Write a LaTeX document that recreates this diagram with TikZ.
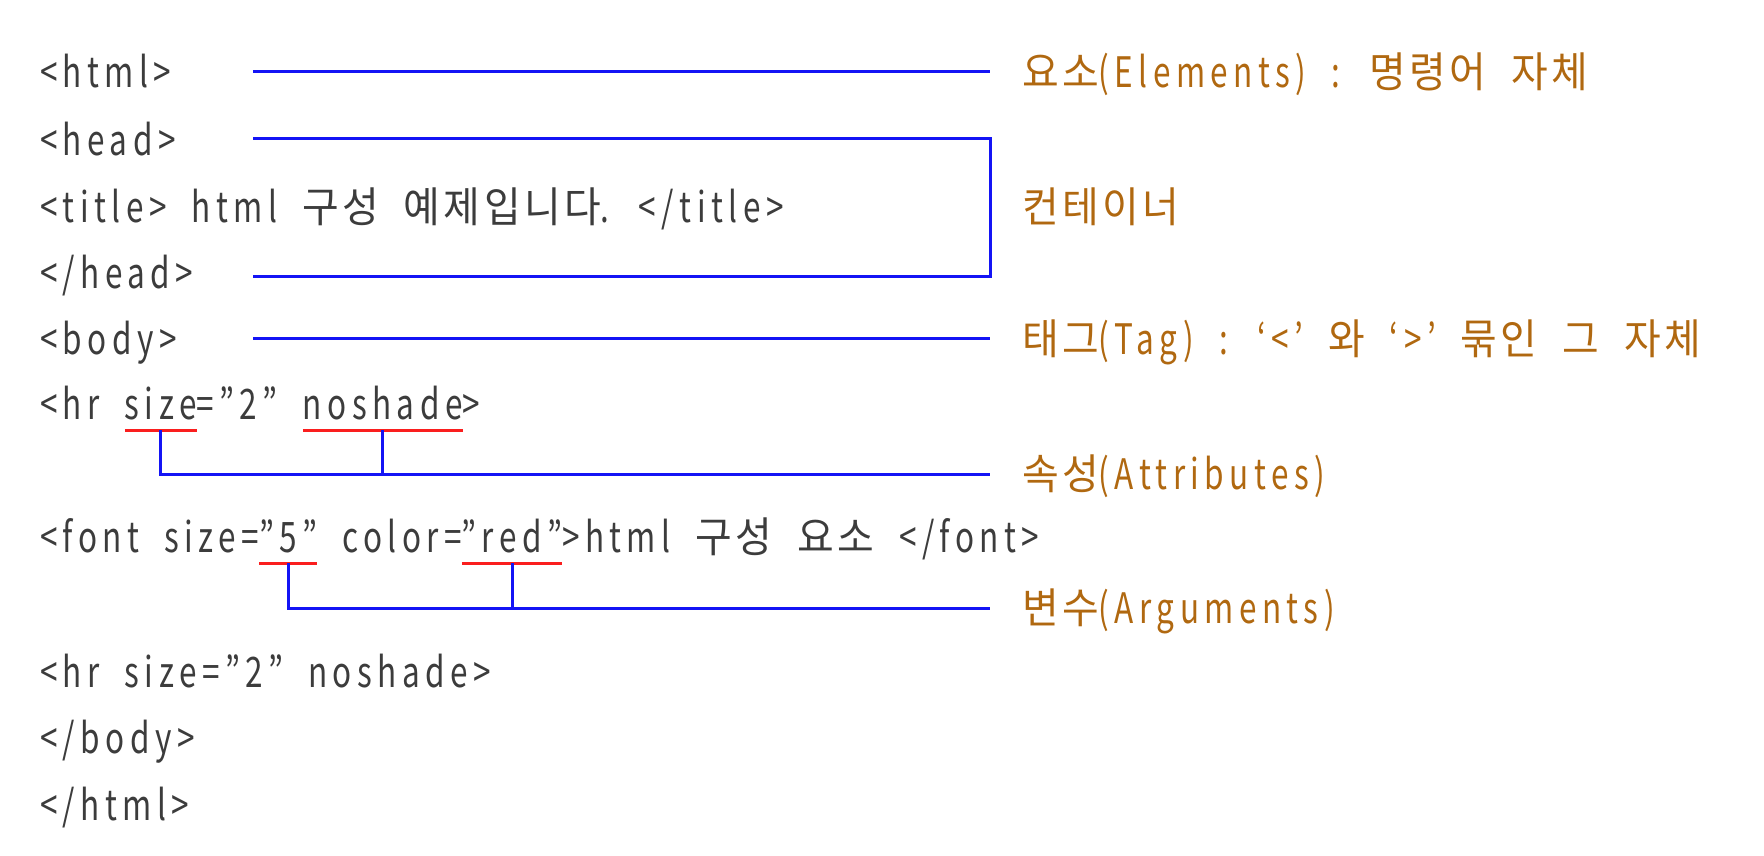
\documentclass[tikz,border=0pt]{standalone}
\usepackage{fontspec}
\setmainfont{Noto Sans CJK KR}[FakeStretch=0.75,LetterSpace=13,WordSpace=2.0]
\newfontfamily\krfont{Noto Sans CJK KR}[FakeStretch=0.95,LetterSpace=8]
\newcommand{\kr}[1]{{\krfont #1}}
\newcommand{\codesp}{\hbox{ }}
\usetikzlibrary{positioning}
\definecolor{codegray}{RGB}{60,60,60}
\definecolor{labelbrown}{RGB}{176,104,16}
\definecolor{linkblue}{RGB}{20,20,245}
\definecolor{markred}{RGB}{250,30,30}

\begin{document}
\begin{tikzpicture}[x=1pt,y=-1pt,every node/.style={inner sep=0pt,outer sep=0pt,font=\fontsize{42}{50}\selectfont}]
\tikzstyle{code}=[text=codegray,anchor=base west]
\tikzstyle{lbl}=[text=labelbrown,anchor=base west]
\tikzstyle{conn}=[draw=linkblue,line width=3pt]
\tikzstyle{uline}=[draw=markred,line width=3pt]
\useasboundingbox (0,0) rectangle (1764,856);
% code lines
\node[code] (html) at (40,88) {<html>};
\node[code] (head) at (40,155) {<head>};
\node[code] (title) at (40,222) {<title> html \kr{구성} \kr{예제입니다}. </title>};
\node[code] (ehead) at (40,288) {</head>};
\node[code] (body) at (40,354) {<body>};
\node[code] (hrA) at (40,419) {<hr\codesp};
\node[code] (hrsize) at (hrA.base east) {size};
\node[code] (hrB) at (hrsize.base east) {="2"\codesp};
\node[code] (hrnoshade) at (hrB.base east) {noshade};
\node[code] (hrC) at (hrnoshade.base east) {>};
\node[code] (fontA) at (40,552) {<font\codesp size=};
\node[code] (fontsize) at (fontA.base east) {"5"};
\node[code] (fontB) at (fontsize.base east) {\codesp color=};
\node[code] (fontcolor) at (fontB.base east) {"red"};
\node[code] (fontC) at (fontcolor.base east) {>html \kr{구성} \kr{요소} </font>};
\node[code] (hr) at (40,687) {<hr size="2" noshade>};
\node[code] (ebody) at (40,753) {</body>};
\node[code] (ehtml) at (40,820) {</html>};
% labels
\node[lbl] (elem) at (1022,88) {\kr{요소}(Elements) : \kr{명령어} \kr{자체}};
\node[lbl] (cont) at (1022,222) {\kr{컨테이너}};
\node[lbl] (tag) at (1022,354) {\kr{태그}(Tag) : ‘<’ \kr{와} ‘>’ \kr{묶인} \kr{그} \kr{자체}};
\node[lbl] (attr) at (1022,489) {\kr{속성}(Attributes)};
\node[lbl] (arg) at (1022,623) {\kr{변수}(Arguments)};
% connectors
\coordinate (elemL) at (253,72);
\coordinate (elemR) at (990,72);
\coordinate (headL) at (253,139);
\coordinate (contT) at (990,139);
\coordinate (contB) at (990,276);
\coordinate (eheadL) at (253,276);
\coordinate (tagL) at (253,338);
\coordinate (tagR) at (990,338);
\coordinate (attrR) at (990,474);
\coordinate (argR) at (990,608);
\draw[conn] (elemL) -- (elemR);
\draw[conn] (headL) -- (contT) -- (contB) -- (eheadL);
\draw[conn] (tagL) -- (tagR);
% underlines
\draw[uline] ([yshift=-11pt]hrsize.base west) -- ([yshift=-11pt]hrsize.base east);
\draw[uline] ([yshift=-11pt]hrnoshade.base west) -- ([yshift=-11pt]hrnoshade.base east);
\draw[uline] ([yshift=-11pt]fontsize.base west) -- ([yshift=-11pt]fontsize.base east);
\draw[uline] ([yshift=-11pt]fontcolor.base west) -- ([yshift=-11pt]fontcolor.base east);
\coordinate (usize) at ([yshift=-11pt]hrsize.base);
\coordinate (unoshade) at ([yshift=-11pt]hrnoshade.base);
\coordinate (ufsize) at ([yshift=-11pt]fontsize.base);
\coordinate (ufcolor) at ([yshift=-11pt]fontcolor.base);
\draw[conn] (usize) |- (attrR);
\draw[conn] (unoshade) -- (unoshade |- attrR);
\draw[conn] (ufsize) |- (argR);
\draw[conn] (ufcolor) -- (ufcolor |- argR);
\end{tikzpicture}
\end{document}
